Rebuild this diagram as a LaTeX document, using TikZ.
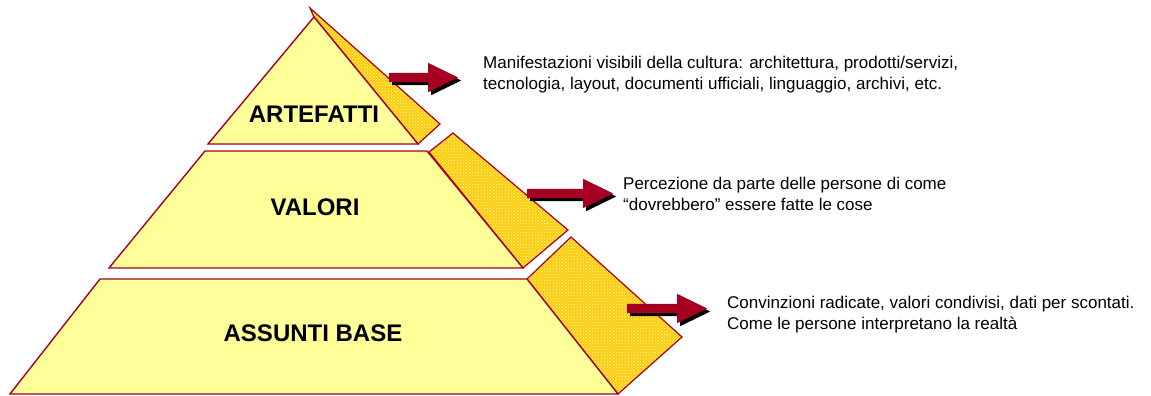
\documentclass[tikz,border=0pt]{standalone}
\usepackage{fontspec}
\setmainfont{Liberation Sans}
\usetikzlibrary{shapes,positioning,shadows,patterns}
\definecolor{pyrfill}{HTML}{FFFF99}
\definecolor{pyrline}{HTML}{A50021}
\definecolor{facefill}{HTML}{FFCC00}
\definecolor{arrowred}{HTML}{A50021}

\begin{document}
\begin{tikzpicture}[x=1pt, y=-1pt, line join=miter,
    level/.style={fill=pyrfill, draw=pyrline, line width=1.4pt},
    face/.style={preaction={fill=facefill}, pattern=crosshatch dots, pattern color=white, draw=pyrline, line width=1.2pt},
    lbl/.style={font=\fontsize{24}{28}\selectfont\bfseries, anchor=base},
    note/.style={font=\fontsize{17}{21.5}\selectfont, align=left, anchor=north west, inner sep=0pt},
    bigarrow/.style={single arrow, fill=arrowred, draw=none, anchor=tail, inner xsep=0pt, inner ysep=4.5pt,
        single arrow head extend=10pt, single arrow tip angle=52,
        drop shadow={shadow xshift=3pt, shadow yshift=-3pt, fill=black, opacity=1}}]
    \useasboundingbox (0,0) rectangle (1151,396);
    \draw[face] (310,8) -- (440,124) -- (418,144) -- (314,17) -- cycle;
    \draw[level] (314,17) -- (418,144) -- (208,144) -- cycle;
    \draw[face] (429,152) -- (453,133) -- (568,230) -- (523,268) -- cycle;
    \draw[level] (205,151) -- (427,151) -- (523,268) -- (109,268) -- cycle;
    \draw[face] (527,279) -- (571,237) -- (682,337) -- (618,394) -- cycle;
    \draw[level] (100,279) -- (527,279) -- (618,394) -- (10,394) -- cycle;
    \node[lbl] (art) at (314,122) {ARTEFATTI};
    \node[lbl] (val) at (315,215) {VALORI};
    \node[lbl] (ass) at (313,341) {ASSUNTI BASE};
    \node[bigarrow, minimum height=69pt] (a1) at (389,77.5) {};
    \node[bigarrow, minimum height=86pt] (a2) at (527,193.5) {};
    \node[bigarrow, minimum height=80pt] (a3) at (627,308.5) {};
    \node[note] (n1) at (483,55.7) {Manifestazioni visibili della cultura: architettura, prodotti/servizi,\\tecnologia, layout, documenti ufficiali, linguaggio, archivi, etc.};
    \node[note] (n2) at (623,176.7) {Percezione da parte delle persone di come\\“dovrebbero” essere fatte le cose};
    \node[note] (n3) at (727,295.7) {Convinzioni radicate, valori condivisi, dati per scontati.\\Come le persone interpretano la realtà};
\end{tikzpicture}
\end{document}
